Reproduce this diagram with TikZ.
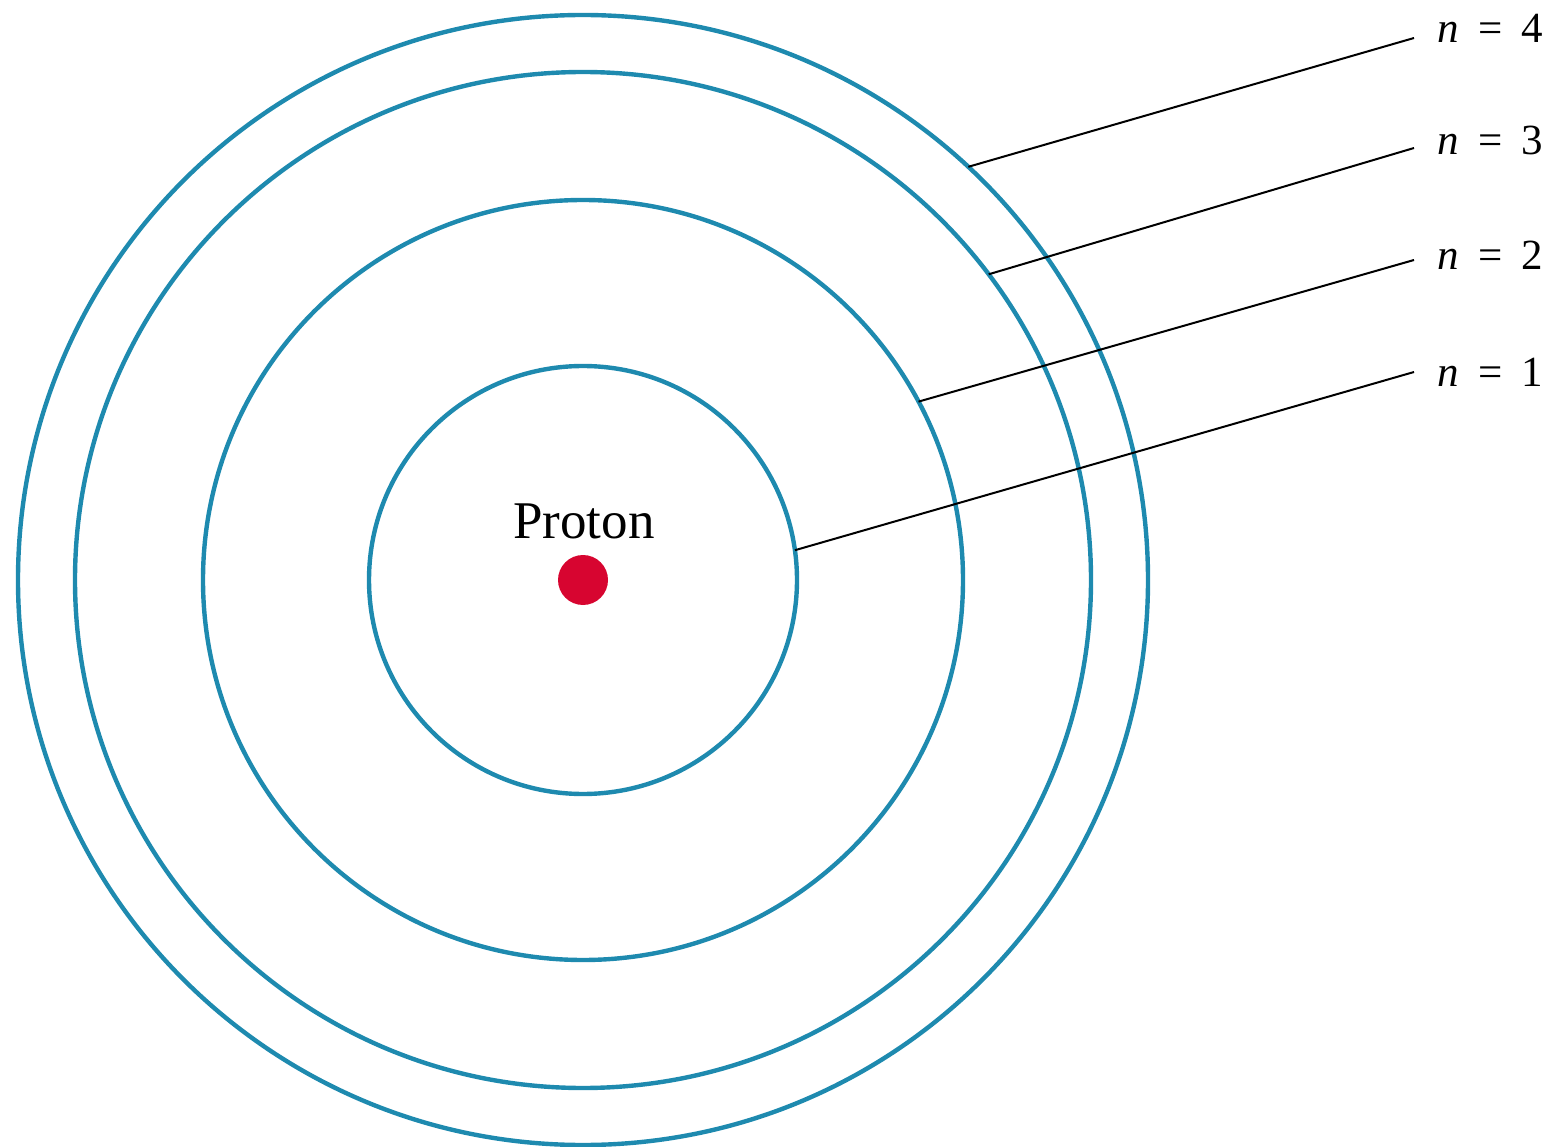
\documentclass[tikz,border=0pt]{standalone}
\usepackage{fontspec}
\setmainfont{Liberation Serif}
\definecolor{orbit}{RGB}{30,138,175}
\definecolor{protonred}{RGB}{215,5,48}
\begin{document}
\begin{tikzpicture}[x=1pt,y=-1pt,
  orbitc/.style={circle,draw=orbit,line width=4.4pt,inner sep=0pt,outer sep=0pt},
  leader/.style={draw=black,line width=2pt},
  lvl/.style={anchor=base west,inner sep=0pt,font=\fontsize{43}{48}\selectfont}]
\useasboundingbox (0,0) rectangle (1559,1147);
\coordinate (ctr) at (583,580);
\node[orbitc,minimum size=428pt] (c1) at (ctr) {};
\node[orbitc,minimum size=760pt] (c2) at (ctr) {};
\node[orbitc,minimum size=1016pt] (c3) at (ctr) {};
\node[orbitc,minimum size=1130pt] (c4) at (ctr) {};
\node[circle,fill=protonred,minimum size=50pt,inner sep=0pt] (p) at (ctr) {};
\node[anchor=base,inner sep=0pt,font=\fontsize{53}{58}\selectfont] (plabel) at (584,538) {Proton};
\coordinate (e4) at (1414,38);
\coordinate (e3) at (1414,148);
\coordinate (e2) at (1414,260);
\coordinate (e1) at (1414,372);
\draw[leader] (c4.47) -- (e4);
\draw[leader] (c3.37.2) -- (e3);
\draw[leader] (c2.28) -- (e2);
\draw[leader] (c1.8.6) -- (e1);
\node[lvl] (l4) at (1437,43) {{\itshape n}\hspace{0.45em}=\hspace{0.45em}4};
\node[lvl] (l3) at (1437,155) {{\itshape n}\hspace{0.45em}=\hspace{0.45em}3};
\node[lvl] (l2) at (1437,270) {{\itshape n}\hspace{0.45em}=\hspace{0.45em}2};
\node[lvl] (l1) at (1437,387) {{\itshape n}\hspace{0.45em}=\hspace{0.45em}1};
\end{tikzpicture}
\end{document}
